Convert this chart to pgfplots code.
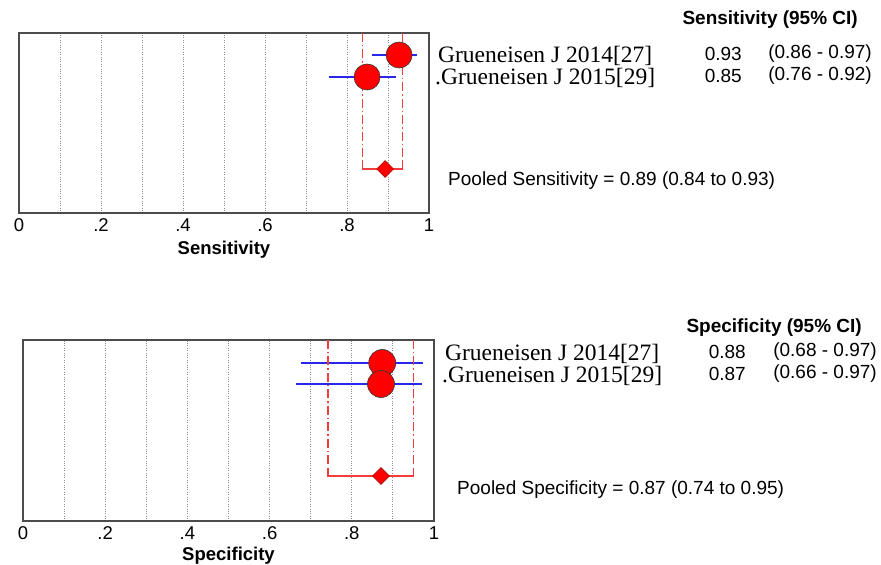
\documentclass[border=0pt]{standalone}
\usepackage{pgfplots}
\pgfplotsset{compat=1.18}
\usepackage{fontspec}
\setmainfont{Liberation Sans}
\newfontfamily\studyfont{Liberation Serif}
\definecolor{ci}{RGB}{40,40,235}
\definecolor{pool}{RGB}{245,60,60}
\pgfplotsset{
  forest/.style={
    scale only axis, clip=false,
    xmin=0, xmax=1, ymin=0,
    axis line style={black!70, line width=1.2pt},
    ytick=\empty,
    xtick={0,0.1,0.2,0.3,0.4,0.5,0.6,0.7,0.8,0.9,1},
    xticklabels={0,,.2,,.4,,.6,,.8,,1},
    major tick length=0pt,
    xmajorgrids, grid style={dotted, black!45, line width=1pt},
    /pgf/number format/assume math mode=true,
    tick label style={font=\fontsize{18.5}{20}\selectfont, yshift=-2pt},
    xlabel style={font=\fontsize{18.5}{20}\selectfont\bfseries, yshift=-3pt},
  },
  pooldash/.style={pool, line width=1.2pt, dash pattern=on 9pt off 3pt on 1.5pt off 3pt},
}
\begin{document}
\begin{tikzpicture}[x=1pt,y=1pt]
\path[use as bounding box] (0,0) rectangle (881,565);
% ---------- Sensitivity ----------
\begin{axis}[forest, at={(19pt,352pt)}, anchor=south west, width=410pt, height=180pt, ymax=180, xlabel={Sensitivity}]
\addplot[only marks, mark=*, mark size=13pt, mark options={fill=red, draw=black!80, line width=0.6pt}] coordinates {(0.927,158) (0.849,136)};
\addplot[ci, line width=1.2pt] coordinates {(0.86,158) (0.97,158)};
\addplot[ci, line width=1.2pt] coordinates {(0.755,136) (0.92,136)};
\addplot[pooldash] coordinates {(0.837,180) (0.837,52)};
\addplot[pooldash] coordinates {(0.935,180) (0.935,52)};
\addplot[pool, line width=1.2pt] coordinates {(0.837,52) (0.837,44) (0.935,44) (0.935,52)};
\addplot[only marks, mark=square*, mark size=6pt, mark options={rotate=45, fill=red, draw=red!60!black, line width=0.5pt}] coordinates {(0.893,44)};
\end{axis}
% ---------- Specificity ----------
\begin{axis}[forest, at={(23pt,44pt)}, anchor=south west, width=411pt, height=181pt, ymax=181, xlabel={Specificity}, xlabel style={yshift=2pt}]
\addplot[only marks, mark=*, mark size=13.5pt, mark options={fill=red, draw=black!80, line width=0.6pt}] coordinates {(0.874,158) (0.871,137)};
\addplot[ci, line width=1.2pt] coordinates {(0.676,158) (0.973,158)};
\addplot[ci, line width=1.2pt] coordinates {(0.664,137) (0.97,137)};
\addplot[pooldash] coordinates {(0.742,181) (0.742,53)};
\addplot[pooldash] coordinates {(0.951,181) (0.951,53)};
\addplot[pool, line width=1.2pt] coordinates {(0.742,53) (0.742,45) (0.951,45) (0.951,53)};
\addplot[only marks, mark=square*, mark size=6pt, mark options={rotate=45, fill=red, draw=red!60!black, line width=0.5pt}] coordinates {(0.871,45)};
\end{axis}
% ---------- text: Sensitivity ----------
\begin{scope}[every node/.style={inner sep=0pt, font=\fontsize{19}{21}\selectfont}]
\node[anchor=east] at (858,545) {\bfseries Sensitivity (95\% CI)};
\node[anchor=west] at (438,509) {\studyfont\fontsize{23.5}{26}\selectfont Grueneisen J 2014[27]};
\node[anchor=west] at (435,487) {\studyfont\fontsize{23.5}{26}\selectfont .Grueneisen J 2015[29]};
\node[anchor=east] at (742,511) {0.93};
\node[anchor=east] at (742,489) {0.85};
\node[anchor=east] at (872,511) {(0.86 - 0.97)};
\node[anchor=east] at (872,489) {(0.76 - 0.92)};
\node[anchor=west] at (448,384) {Pooled Sensitivity = 0.89 (0.84 to 0.93)};
% ---------- text: Specificity ----------
\node[anchor=east] at (862,237) {\bfseries Specificity (95\% CI)};
\node[anchor=west] at (445,211) {\studyfont\fontsize{23.5}{26}\selectfont Grueneisen J 2014[27]};
\node[anchor=west] at (442,189) {\studyfont\fontsize{23.5}{26}\selectfont .Grueneisen J 2015[29]};
\node[anchor=east] at (746,213) {0.88};
\node[anchor=east] at (746,191) {0.87};
\node[anchor=east] at (877,213) {(0.68 - 0.97)};
\node[anchor=east] at (877,191) {(0.66 - 0.97)};
\node[anchor=west] at (457,75) {Pooled Specificity = 0.87 (0.74 to 0.95)};
\end{scope}
\end{tikzpicture}
\end{document}
